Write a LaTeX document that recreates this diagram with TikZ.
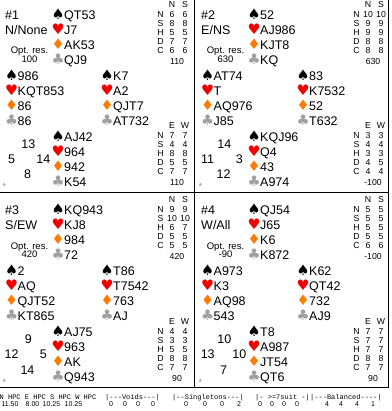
\documentclass[tikz,border=0pt]{standalone}
\usepackage{fontspec}
\setmainfont{Liberation Sans}
\setmonofont{Liberation Mono}
\newfontfamily\pipfont{DejaVu Sans}
\usepackage{tikz}
\usetikzlibrary{calc}
\usepackage{xcolor}
\definecolor{spadecol}{HTML}{000000}
\definecolor{heartcol}{HTML}{F00000}
\definecolor{diamcol}{HTML}{FF7A00}
\definecolor{clubcol}{HTML}{A0A0A0}

% one hand: name, x, baseline of first row, spades, hearts, diamonds, clubs
\newcommand{\hand}[7]{%
  \foreach \sym/\col/\cards [count=\i from 0] in
      {♠/spadecol/#4, ♥/heartcol/#5, ♦/diamcol/#6, ♣/clubcol/#7}{
    \node[pip, text=\col] (#1s\i) at (#2+5, #3+15*\i) {\sym};
    \node[cards] (#1c\i) at (#2+11, #3+15*\i) {\cards};
  }}

% double dummy table: name, header baseline, pair, rows, score
\newcommand{\ddtab}[6]{%
  \node[dd] (#1a) at (172, #2) {#3};
  \node[dd] (#1b) at (185, #2) {#4};
  \foreach \lab/\u/\v [count=\i from 0] in {#5}{
    \node[dd] (#1l\i) at (160.5, #2+10+9*\i) {\lab};
    \node[dd] (#1u\i) at (172, #2+10+9*\i) {\u};
    \node[dd] (#1v\i) at (185, #2+10+9*\i) {\v};
  }
  \node[dd] (#1t) at (177, #2+57) {#6};}

% board heading: name, board, dealer/vul, optimum
\newcommand{\dealhead}[4]{%
  \node[cards] (#1b) at (5, 19.5) {#2};
  \node[cards] (#1d) at (5, 34.5) {#3};
  \node[opt] (#1o) at (29.5, 54) {Opt. res.};
  \node[opt] (#1v) at (29.5, 62.7) {#4};
  \node[cornermark] (#1m) at (4.5, 186) {▲};}

% HCP compass: name, north, west, east, south
\newcommand{\hcp}[5]{%
  \node[hcpt] (#1n) at (28.3, 148.5) {#2};
  \node[hcpt] (#1w) at (11.7, 163.5) {#3};
  \node[hcpt] (#1e) at (43.3, 163.5) {#4};
  \node[hcpt] (#1s) at (27.5, 179) {#5};}

\begin{document}
\begin{tikzpicture}[x=1pt, y=-1pt,
    cards/.style={anchor=base west, inner sep=0pt,
                  font=\fontsize{12.5}{14}\selectfont},
    pip/.style={anchor=base, inner sep=0pt,
                font=\pipfont\fontsize{14.5}{15}\selectfont},
    hcpt/.style={anchor=base, inner sep=0pt,
                 font=\fontsize{12.5}{14}\selectfont},
    opt/.style={anchor=base, inner sep=0pt, font=\fontsize{9.5}{11}\selectfont},
    dd/.style={anchor=base, inner sep=0pt, font=\fontsize{8.7}{9}\selectfont},
    cornermark/.style={anchor=base, inner sep=0pt, text=clubcol,
                 font=\pipfont\fontsize{4}{4}\selectfont},
    foot/.style={anchor=base west, inner sep=0pt,
                 font=\ttfamily\fontsize{7}{8}\selectfont},
    count/.style={anchor=base, inner sep=0pt, font=\fontsize{7}{8}\selectfont},
    frame/.style={line width=1pt}
  ]
    \useasboundingbox (0,0) rectangle (391,411);

    % Board 1
    \begin{scope}
      \dealhead{a}{\#1}{N/None}{100}
      \hand{an}{53}{19.5}{QT53}{J7}{AK53}{QJ9}
      \hand{aw}{6.5}{80.5}{986}{KQT853}{86}{86}
      \hand{ae}{102}{80.5}{K7}{A2}{QJT7}{AT732}
      \hand{as}{53}{141.5}{AJ42}{964}{942}{K54}
      \hcp{ah}{13}{5}{14}{8}
      \ddtab{ans}{7.5}{N}{S}{N/6/6, S/8/8, H/5/5, D/7/7, C/6/6}{110}
      \ddtab{aew}{129}{E}{W}{N/7/7, S/4/4, H/8/8, D/5/5, C/7/7}{110}
    \end{scope}

    % Board 2
    \begin{scope}[shift={(196,0)}]
      \dealhead{b}{\#2}{E/NS}{630}
      \hand{bn}{53}{19.5}{52}{AJ986}{KJT8}{KQ}
      \hand{bw}{6.5}{80.5}{AT74}{T}{AQ976}{J85}
      \hand{be}{102}{80.5}{83}{K7532}{52}{T632}
      \hand{bs}{53}{141.5}{KQJ96}{Q4}{43}{A974}
      \hcp{bh}{14}{11}{3}{12}
      \ddtab{bns}{7.5}{N}{S}{N/10/10, S/9/9, H/9/9, D/8/8, C/8/8}{630}
      \ddtab{bew}{129}{E}{W}{N/3/3, S/4/4, H/3/3, D/4/5, C/4/4}{-100}
    \end{scope}

    % Board 3
    \begin{scope}[shift={(0,195)}]
      \dealhead{c}{\#3}{S/EW}{420}
      \hand{cn}{53}{19.5}{KQ943}{KJ8}{984}{72}
      \hand{cw}{6.5}{80.5}{2}{AQ}{QJT52}{KT865}
      \hand{ce}{102}{80.5}{T86}{T7542}{763}{AJ}
      \hand{cs}{53}{141.5}{AJ75}{963}{AK}{Q943}
      \hcp{ch}{9}{12}{5}{14}
      \ddtab{cns}{7.5}{N}{S}{N/9/9, S/10/10, H/6/7, D/5/5, C/5/5}{420}
      \ddtab{cew}{129}{E}{W}{N/4/4, S/3/3, H/5/5, D/8/8, C/7/7}{90}
    \end{scope}

    % Board 4
    \begin{scope}[shift={(196,195)}]
      \dealhead{d}{\#4}{W/All}{-90}
      \hand{dn}{53}{19.5}{QJ54}{J65}{K6}{K872}
      \hand{dw}{6.5}{80.5}{A973}{K3}{AQ98}{543}
      \hand{de}{102}{80.5}{K62}{QT42}{732}{AJ9}
      \hand{ds}{53}{141.5}{T8}{A987}{JT54}{QT6}
      \hcp{dh}{10}{13}{10}{7}
      \ddtab{dns}{7.5}{N}{S}{N/5/5, S/5/5, H/5/5, D/5/5, C/6/6}{-100}
      \ddtab{dew}{129}{E}{W}{N/7/7, S/7/7, H/7/7, D/8/8, C/7/7}{90}
    \end{scope}

    % Frame
    \draw[frame] (194,0) -- (194,387.5);
    \draw[frame] (388.5,0) -- (388.5,387.5);
    \draw[frame] (0,192.5) -- (388.5,192.5);
    \draw[frame] (0,387.5) -- (388.5,387.5);

    % Statistics
    \foreach \x/\t [count=\i] in {-0.5/N HPC E HPC S HPC W HPC,
        105/{|---Voids---|}, 172/{|--Singletons---|}, 255/{|- >=7suit -|},
        310/{|---Balanced----|}}
      \node[foot] (head\i) at (\x, 399.5) {\t};
    \foreach \x/\t [count=\i] in {10/11.50, 32.5/8.00, 51.5/10.25, 73.5/10.25,
        111/0, 125/0, 138/0, 153/0, 186/0, 205/0, 222/0, 239/2,
        260/0, 272/0, 284/0, 297/0, 327/4, 341/4, 357/4, 373/1}
      \node[count] (cnt\i) at (\x, 406.5) {\t};
\end{tikzpicture}
\end{document}
